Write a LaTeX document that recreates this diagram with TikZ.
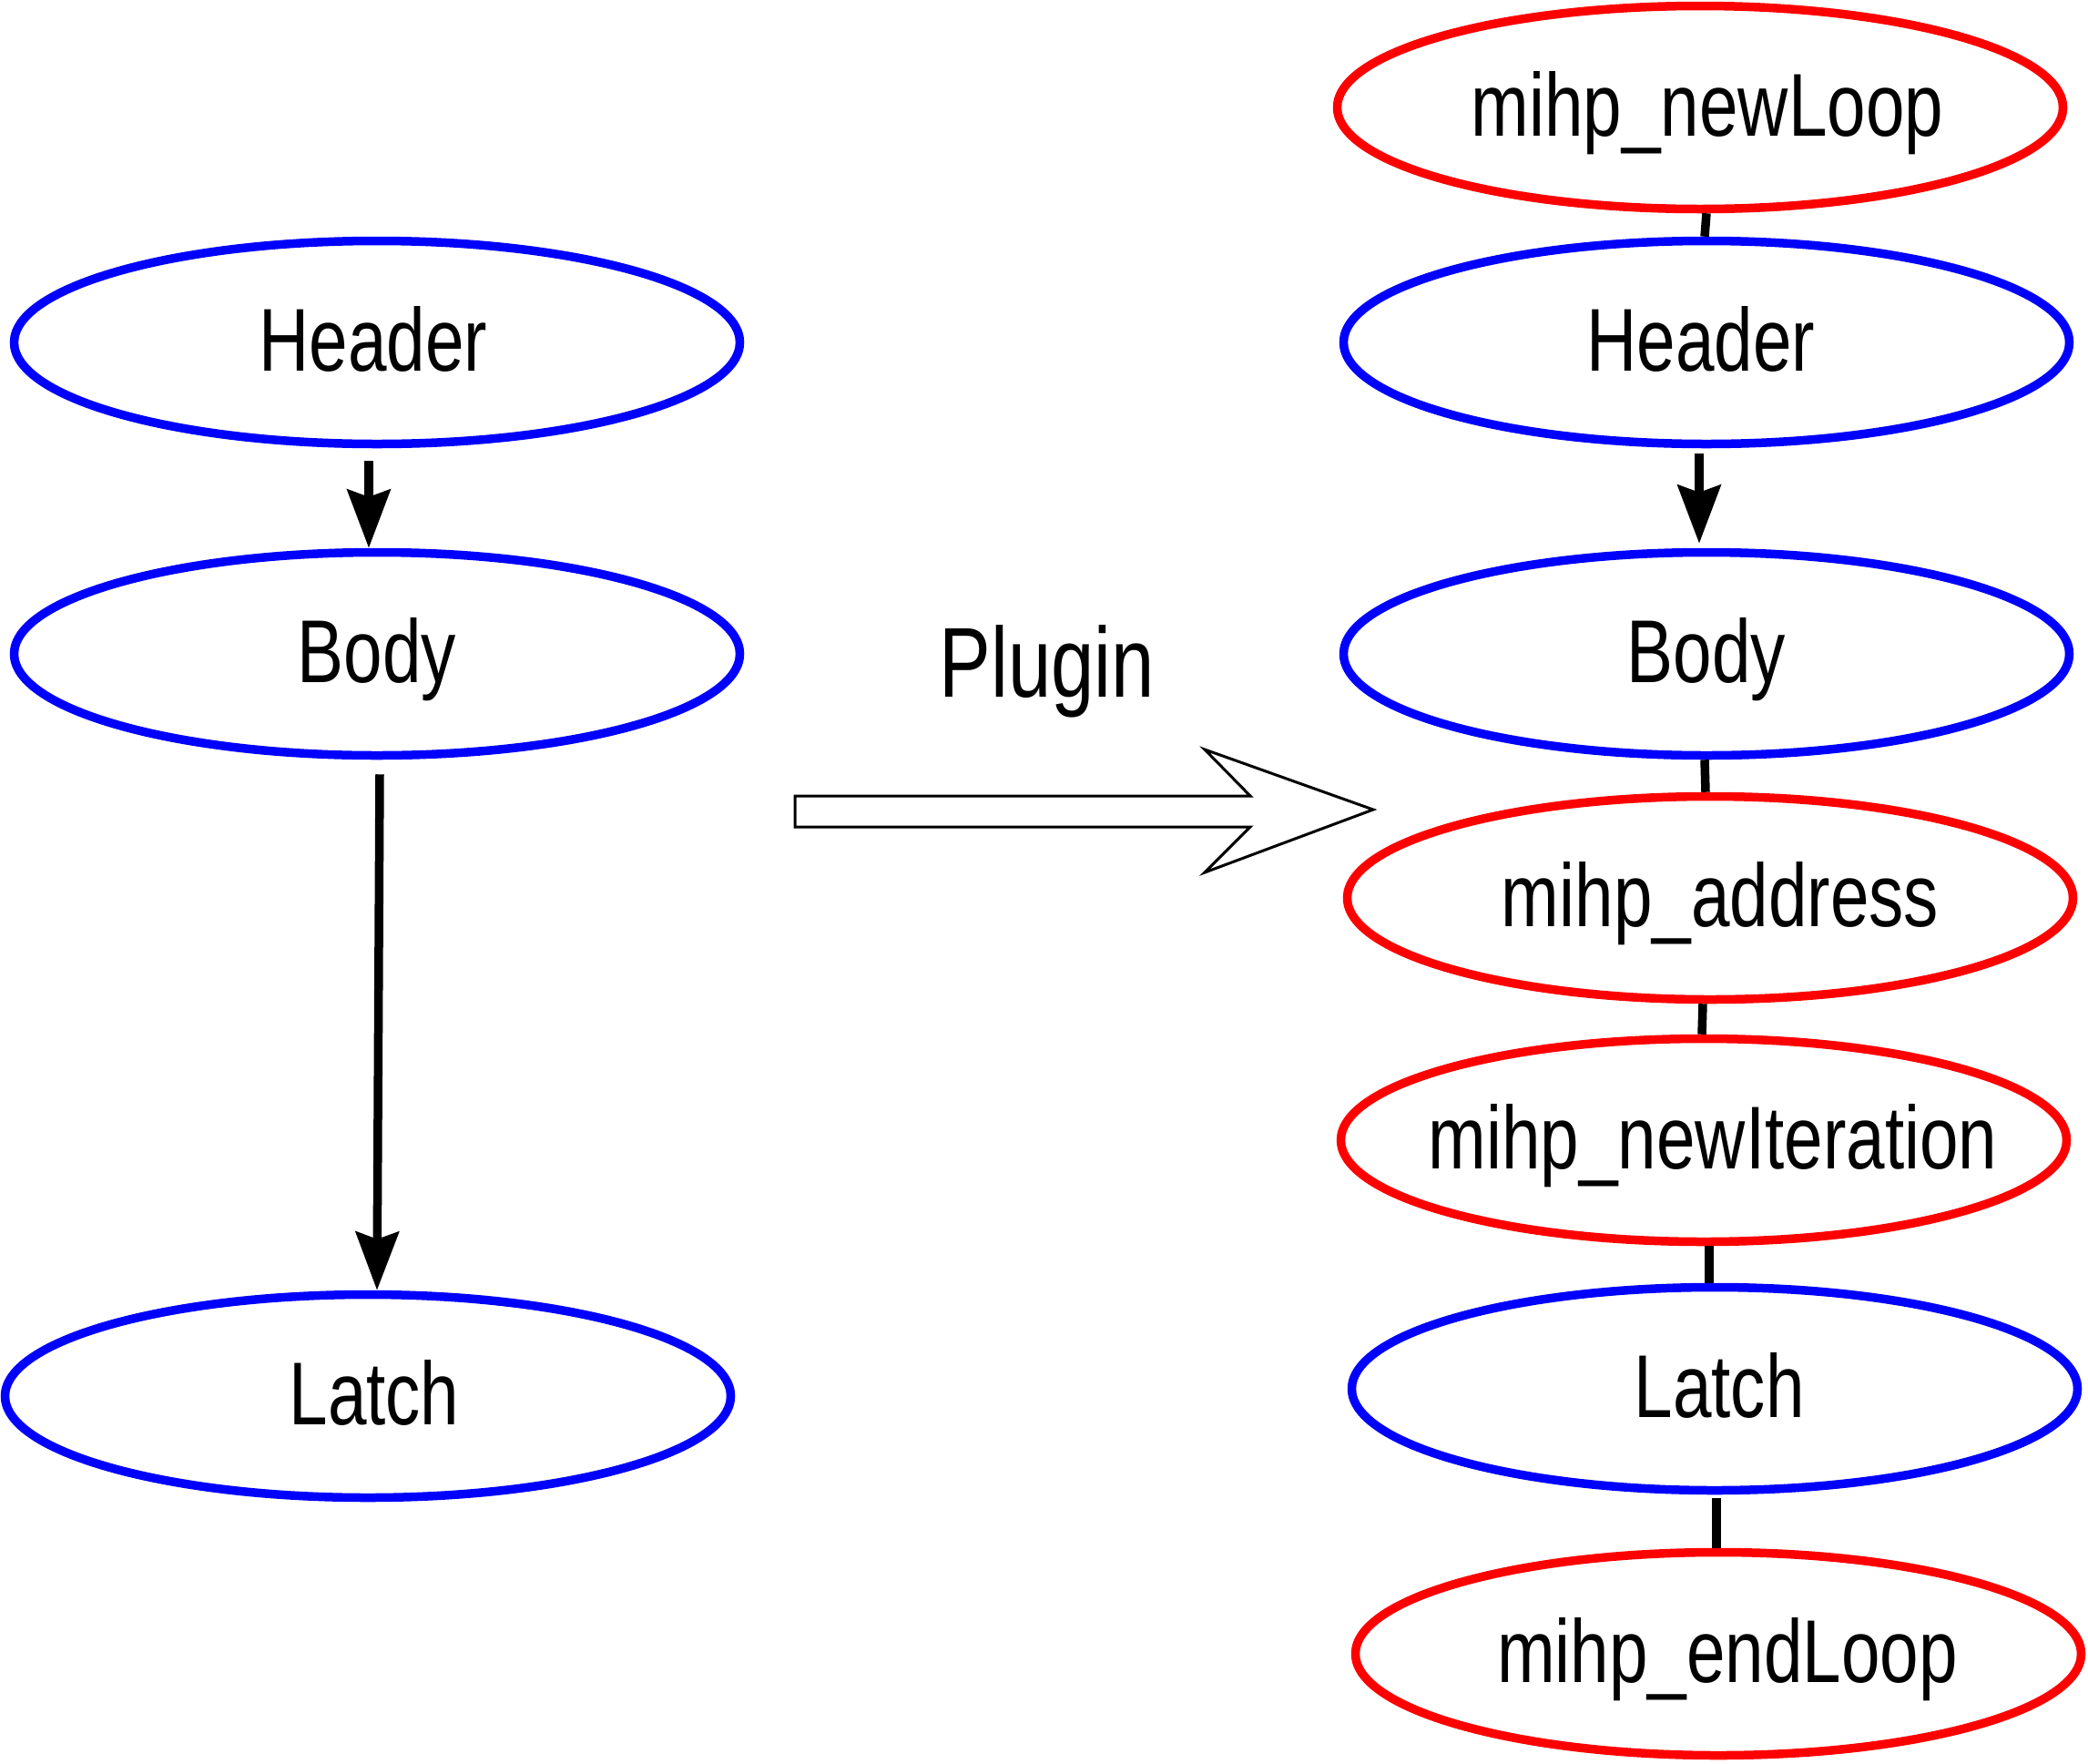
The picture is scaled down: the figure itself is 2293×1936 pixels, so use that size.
\documentclass[tikz,border=0pt]{standalone}
\usepackage{fontspec}
\setmainfont[FakeStretch=0.78]{Liberation Sans}
\usetikzlibrary{shapes.geometric,arrows.meta}
\begin{document}
\begin{tikzpicture}[x=1pt,y=-1pt,
  ell/.style={ellipse, draw, line width=9.5pt, minimum width=797pt, minimum height=223pt, inner sep=0pt},
  bluell/.style={ell, draw=blue},
  redell/.style={ell, draw=red},
  lbl/.style={font=\fontsize{98}{110}\selectfont, text height=80pt, text depth=18pt, inner sep=0pt},
  arr/.style={line width=9.5pt, -{Stealth[length=64pt,width=47pt,inset=8pt]}},
  ln/.style={line width=9.5pt},
  hollow/.style={draw, line width=3pt, line join=miter, fill=white}]
\useasboundingbox (0,0) rectangle (2293,1936);
% left column
\node[bluell] (hl) at (414,376) {};
\node[bluell] (bl) at (414,718) {};
\node[bluell] (ll) at (404,1533) {};
\node[lbl] (hlt) at ([xshift=-4pt]hl.center) {Header};
\node[lbl] (blt) at (bl.center) {Body};
\node[lbl] (llt) at ([xshift=7pt]ll.center) {Latch};
% right column
\node[redell] (nl) at (1867,118) {};
\node[bluell] (hr) at (1874,376) {};
\node[bluell] (br) at (1874,718) {};
\node[redell] (ad) at (1878,986) {};
\node[redell] (ni) at (1871,1252) {};
\node[bluell] (lr) at (1883,1525) {};
\node[redell] (el) at (1887,1816) {};
\node[lbl] (nlt) at ([xshift=8pt]nl.center) {mihp\_newLoop};
\node[lbl] (hrt) at ([xshift=-6pt]hr.center) {Header};
\node[lbl] (brt) at (br.center) {Body};
\node[lbl] (adt) at ([xshift=11pt]ad.center) {mihp\_address};
\node[lbl] (nit) at ([xshift=10pt]ni.center) {mihp\_newIteration};
\node[lbl] (lrt) at ([xshift=5pt]lr.center) {Latch};
\node[lbl] (elt) at ([xshift=10pt]el.center) {mihp\_endLoop};
% left edges
\draw[arr] ([xshift=-9pt,yshift=-14pt]hl.south) -- ([xshift=-9pt]bl.north);
\draw[arr] ([xshift=3pt,yshift=-16pt]bl.south) -- ([xshift=10pt]ll.north);
% right edges
\draw[arr] ([xshift=-8pt,yshift=-6pt]hr.south) -- ([xshift=-8pt,yshift=5pt]br.north);
\draw[ln] ([xshift=7pt]nl.south) -- ([xshift=-2pt]hr.north);
\draw[ln] ([xshift=-2pt]br.south) -- ([xshift=-5pt]ad.north);
\draw[ln] ([xshift=-8pt]ad.south) -- ([xshift=-2pt]ni.north);
\draw[ln] ([xshift=6pt]ni.south) -- ([xshift=-6pt]lr.north);
\draw[ln] ([xshift=2pt,yshift=-4pt]lr.south) -- ([xshift=-2pt]el.north);
% plugin arrow
\draw[hollow] (873,874) -- (1373,874) -- (1323,823) -- (1508,889) -- (1323,958) -- (1373,908) -- (873,908) -- cycle;
\node[font=\fontsize{109}{120}\selectfont, anchor=base, inner sep=0pt] (plug) at (1150,765) {Plugin};
\end{tikzpicture}
\end{document}
